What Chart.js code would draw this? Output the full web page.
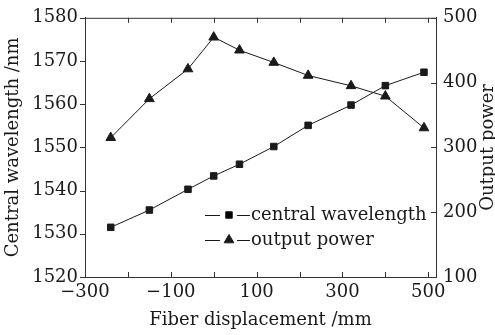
<!DOCTYPE html>
<html>
<head>
<meta charset="utf-8">
<script src="https://cdn.jsdelivr.net/npm/chart.js@4/dist/chart.umd.min.js"></script>
<style>
    html, body { margin: 0; padding: 0; background: #fff; }
    #wrap { width: 495px; height: 335px; }
</style>
</head>
<body>
<div id="wrap"><canvas id="myChart" width="495" height="335"></canvas></div>
<script>
// Dados
const displacement = [-240, -150, -60, 0, 60, 140, 220, 320, 400, 490];
const centralWavelength = [1531.5, 1535.5, 1540.3, 1543.4, 1546.1, 1550.2, 1555.1, 1559.8, 1564.3, 1567.4];
const outputPower = [315, 375, 421, 470, 450, 431, 411, 395, 379, 330];
const xTickLabels = [-300, -100, 100, 300, 500];
const xTickMarks = [-300, -200, -100, 0, 100, 200, 300, 400, 500];
const seriesNames = ['central wavelength', 'output power'];
const axisTitles = ['Fiber displacement /mm', 'Central wavelength /nm', 'Output power'];

const FONT = 'DejaVu Serif';
const FSIZE = 18;
const INK = '#1a1a1a';
const AXIS = '#333';

function minus(v) {
    return v < 0 ? '\u2212' + Math.abs(v) : String(v);
}

// Marcas dos eixos, borda superior, título direito e legenda
const decorPlugin = {
    id: 'decor',
    afterDraw(chart) {
        const ctx = chart.ctx;
        const area = chart.chartArea;
        const x = chart.scales.x, y = chart.scales.y, y1 = chart.scales.y1;
        ctx.save();
        ctx.strokeStyle = AXIS;
        ctx.lineWidth = 1;
        ctx.beginPath();
        // borda superior
        ctx.moveTo(area.left, area.top + 0.5);
        ctx.lineTo(area.right, area.top + 0.5);
        // marcas no eixo x (para dentro, em baixo e em cima)
        xTickMarks.forEach(v => {
            const px = Math.round(x.getPixelForValue(v)) + 0.5;
            ctx.moveTo(px, area.bottom);
            ctx.lineTo(px, area.bottom - 5);
            ctx.moveTo(px, area.top);
            ctx.lineTo(px, area.top + 5);
        });
        // marcas no eixo esquerdo (para fora)
        y.ticks.forEach(t => {
            const py = Math.round(y.getPixelForValue(t.value)) + 0.5;
            ctx.moveTo(area.left - 5, py);
            ctx.lineTo(area.left, py);
        });
        // marcas no eixo direito (para dentro)
        y1.ticks.forEach(t => {
            const py = Math.round(y1.getPixelForValue(t.value)) + 0.5;
            ctx.moveTo(area.right - 5, py);
            ctx.lineTo(area.right, py);
        });
        ctx.stroke();

        // título do eixo direito, de baixo para cima
        ctx.fillStyle = INK;
        ctx.font = FSIZE + 'px "' + FONT + '"';
        ctx.textAlign = 'center';
        ctx.textBaseline = 'middle';
        ctx.translate(488, (area.top + area.bottom) / 2);
        ctx.rotate(-Math.PI / 2);
        ctx.fillText(axisTitles[2], 0, 0);
        ctx.restore();

        // legenda (traço - marcador - traço)
        ctx.save();
        ctx.font = FSIZE + 'px "' + FONT + '"';
        ctx.textBaseline = 'middle';
        ctx.textAlign = 'left';
        const rows = [215, 240];
        chart.data.datasets.forEach((ds, i) => {
            const ly = rows[i];
            ctx.strokeStyle = INK;
            ctx.lineWidth = 1;
            ctx.beginPath();
            ctx.moveTo(205, ly + 0.5);
            ctx.lineTo(220, ly + 0.5);
            ctx.moveTo(237, ly + 0.5);
            ctx.lineTo(250, ly + 0.5);
            ctx.stroke();
            Chart.helpers.drawPoint(ctx, {
                pointStyle: ds.pointStyle,
                radius: ds.pointRadius,
                rotation: 0,
                borderWidth: 1
            }, 229, ly);
            ctx.fillStyle = INK;
            ctx.fillText(ds.label, 251, ly);
        });
        ctx.restore();
    }
};

const tickFont = { family: FONT, size: FSIZE };

const ctx = document.getElementById('myChart').getContext('2d');
const chart = new Chart(ctx, {
    type: 'line',
    data: {
        datasets: [{
            label: seriesNames[0],
            data: displacement.map((d, i) => ({ x: d, y: centralWavelength[i] })),
            yAxisID: 'y',
            borderColor: INK,
            backgroundColor: INK,
            borderWidth: 1,
            pointStyle: 'rect',
            pointRadius: 4.6,
            pointBorderWidth: 1,
            tension: 0
        }, {
            label: seriesNames[1],
            data: displacement.map((d, i) => ({ x: d, y: outputPower[i] })),
            yAxisID: 'y1',
            borderColor: INK,
            backgroundColor: INK,
            borderWidth: 1,
            pointStyle: 'triangle',
            pointRadius: 5.6,
            pointBorderWidth: 1,
            tension: 0
        }]
    },
    options: {
        responsive: false,
        animation: false,
        devicePixelRatio: 1,
        layout: { padding: { top: 17, right: 0, left: 0, bottom: 0 } },
        plugins: {
            legend: { display: false },
            tooltip: { enabled: false }
        },
        scales: {
            x: {
                type: 'linear',
                position: 'bottom',
                min: -300,
                max: 518,
                afterBuildTicks: s => { s.ticks = xTickLabels.map(v => ({ value: v })); },
                afterFit: s => { s.height = 58; },
                grid: { display: false, drawTicks: false },
                border: { display: true, color: AXIS, width: 1 },
                ticks: {
                    autoSkip: false,
                    maxRotation: 0,
                    padding: 5,
                    color: INK,
                    font: tickFont,
                    callback: v => minus(v)
                },
                title: {
                    display: true,
                    text: axisTitles[0],
                    color: INK,
                    font: tickFont,
                    padding: { top: 0, bottom: 4 }
                }
            },
            y: {
                position: 'left',
                min: 1520,
                max: 1580,
                afterFit: s => { s.width = 85; },
                grid: { display: false, drawTicks: false },
                border: { display: true, color: AXIS, width: 1 },
                ticks: {
                    stepSize: 10,
                    padding: 7,
                    color: INK,
                    font: tickFont,
                    callback: v => String(v)
                },
                title: {
                    display: true,
                    text: axisTitles[1],
                    color: INK,
                    font: tickFont,
                    padding: { top: 3, bottom: 0 }
                }
            },
            y1: {
                position: 'right',
                min: 100,
                max: 500,
                afterFit: s => { s.width = 59; },
                grid: { display: false, drawTicks: false },
                border: { display: true, color: AXIS, width: 1 },
                ticks: {
                    stepSize: 100,
                    padding: 7,
                    color: INK,
                    font: tickFont,
                    callback: v => String(v)
                }
            }
        }
    },
    plugins: [decorPlugin]
});
</script>
</body>
</html>
